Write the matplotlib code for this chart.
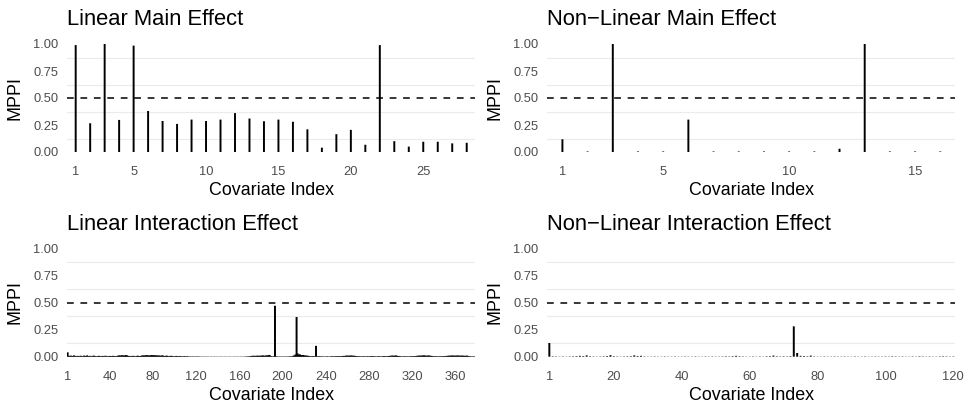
import matplotlib
matplotlib.use('Agg')
import matplotlib.pyplot as plt

plt.rcParams['font.family'] = ['Liberation Sans', 'DejaVu Sans']

# MPPI values
lin_main = [0.99, 0.266, 1.0, 0.297, 0.985, 0.38, 0.287, 0.26, 0.30, 0.287,
            0.30, 0.36, 0.31, 0.285, 0.30, 0.28, 0.21, 0.04, 0.165, 0.205,
            0.067, 0.99, 0.10, 0.05, 0.095, 0.095, 0.08, 0.085]

nonlin_main = [0.118, 0.005, 1.0, 0.005, 0.005, 0.30, 0.005, 0.005, 0.005, 0.005,
               0.005, 0.03, 1.0, 0.005, 0.005, 0.005]

lin_int = [
    0.040, 0.008, 0.006, 0.010, 0.005, 0.007, 0.012, 0.006, 0.004, 0.008, 0.006, 0.005, 0.009, 0.006, 0.004, 0.010, 0.007, 0.005, 0.012, 0.006,
    0.005, 0.008, 0.004, 0.006, 0.010, 0.007, 0.005, 0.004, 0.006, 0.008, 0.005, 0.004, 0.007, 0.006, 0.005, 0.009, 0.004, 0.006, 0.005, 0.007,
    0.006, 0.004, 0.008, 0.005, 0.006, 0.004, 0.007, 0.010, 0.012, 0.008, 0.014, 0.010, 0.012, 0.009, 0.015, 0.011, 0.008, 0.006, 0.005, 0.007,
    0.006, 0.008, 0.005, 0.004, 0.007, 0.009, 0.006, 0.005, 0.008, 0.010, 0.012, 0.009, 0.013, 0.014, 0.011, 0.012, 0.010, 0.013, 0.015, 0.012,
    0.011, 0.013, 0.010, 0.012, 0.009, 0.011, 0.008, 0.010, 0.012, 0.007, 0.006, 0.008, 0.009, 0.006, 0.005, 0.007, 0.008, 0.006, 0.005, 0.004,
    0.006, 0.007, 0.005, 0.004, 0.006, 0.005, 0.003, 0.004, 0.006, 0.003, 0.004, 0.005, 0.003, 0.002, 0.003, 0.002, 0.003, 0.002, 0.002, 0.003,
    0.002, 0.003, 0.002, 0.002, 0.001, 0.002, 0.002, 0.001, 0.002, 0.001, 0.002, 0.001, 0.001, 0.002, 0.001, 0.001, 0.002, 0.001, 0.001, 0.002,
    0.001, 0.001, 0.002, 0.001, 0.001, 0.001, 0.002, 0.001, 0.001, 0.001, 0.002, 0.001, 0.001, 0.001, 0.002, 0.001, 0.001, 0.002, 0.001, 0.001,
    0.002, 0.001, 0.002, 0.001, 0.002, 0.003, 0.002, 0.004, 0.003, 0.005, 0.006, 0.008, 0.007, 0.009, 0.006, 0.008, 0.010, 0.007, 0.009, 0.008,
    0.010, 0.011, 0.008, 0.009, 0.012, 0.010, 0.014, 0.016, 0.006, 0.004, 0.003, 0.005, 0.470, 0.004, 0.003, 0.002, 0.003, 0.002, 0.003, 0.002,
    0.002, 0.003, 0.002, 0.003, 0.002, 0.003, 0.004, 0.003, 0.005, 0.008, 0.012, 0.020, 0.366, 0.030, 0.018, 0.022, 0.015, 0.012, 0.016, 0.010,
    0.012, 0.008, 0.010, 0.007, 0.006, 0.005, 0.004, 0.006, 0.005, 0.004, 0.100, 0.004, 0.003, 0.005, 0.004, 0.003, 0.004, 0.003, 0.002, 0.003,
    0.004, 0.003, 0.002, 0.003, 0.004, 0.005, 0.003, 0.004, 0.005, 0.004, 0.006, 0.005, 0.004, 0.006, 0.005, 0.007, 0.006, 0.008, 0.009, 0.010,
    0.008, 0.010, 0.009, 0.011, 0.008, 0.009, 0.007, 0.006, 0.005, 0.004, 0.005, 0.004, 0.003, 0.004, 0.005, 0.004, 0.003, 0.004, 0.005, 0.003,
    0.004, 0.005, 0.006, 0.004, 0.005, 0.004, 0.003, 0.004, 0.005, 0.004, 0.003, 0.004, 0.005, 0.006, 0.005, 0.004, 0.005, 0.006, 0.007, 0.008,
    0.009, 0.010, 0.008, 0.009, 0.011, 0.008, 0.007, 0.006, 0.005, 0.004, 0.003, 0.004, 0.005, 0.004, 0.003, 0.004, 0.003, 0.004, 0.005, 0.004,
    0.005, 0.006, 0.005, 0.007, 0.008, 0.009, 0.010, 0.008, 0.011, 0.009, 0.012, 0.010, 0.008, 0.009, 0.011, 0.010, 0.008, 0.007, 0.006, 0.005,
    0.004, 0.005, 0.004, 0.003, 0.004, 0.005, 0.004, 0.005, 0.006, 0.005, 0.006, 0.007, 0.008, 0.009, 0.008, 0.010, 0.009, 0.011, 0.008, 0.010,
    0.009, 0.011, 0.010, 0.008, 0.009, 0.010, 0.008, 0.009, 0.007, 0.008, 0.010, 0.006, 0.005, 0.004, 0.003, 0.004, 0.003, 0.004,
]

nonlin_int = [
    0.126, 0.004, 0.003, 0.002, 0.003, 0.002, 0.003, 0.004, 0.005, 0.008, 0.006, 0.012, 0.004, 0.003, 0.002, 0.003, 0.004, 0.006, 0.014, 0.005,
    0.003, 0.002, 0.003, 0.004, 0.005, 0.012, 0.006, 0.008, 0.003, 0.002, 0.002, 0.003, 0.002, 0.002, 0.003, 0.002, 0.002, 0.003, 0.002, 0.002,
    0.003, 0.002, 0.002, 0.003, 0.002, 0.002, 0.003, 0.002, 0.003, 0.002, 0.002, 0.003, 0.004, 0.003, 0.005, 0.008, 0.004, 0.003, 0.002, 0.002,
    0.003, 0.002, 0.003, 0.002, 0.004, 0.005, 0.010, 0.004, 0.003, 0.004, 0.003, 0.005, 0.280, 0.034, 0.008, 0.006, 0.004, 0.010, 0.003, 0.002,
    0.002, 0.003, 0.002, 0.002, 0.003, 0.002, 0.002, 0.003, 0.002, 0.002, 0.003, 0.002, 0.002, 0.003, 0.002, 0.002, 0.003, 0.002, 0.002, 0.003,
    0.002, 0.004, 0.003, 0.002, 0.003, 0.002, 0.002, 0.003, 0.002, 0.004, 0.003, 0.002, 0.003, 0.002, 0.002, 0.003, 0.004, 0.003, 0.002, 0.003,
]

titles = ['Linear Main Effect', 'Non\u2212Linear Main Effect',
          'Linear Interaction Effect', 'Non\u2212Linear Interaction Effect']
xticks = [[1, 5, 10, 15, 20, 25],
          [1, 5, 10, 15],
          [1, 40, 80, 120, 160, 200, 240, 280, 320, 360],
          [1, 20, 40, 60, 80, 100, 120]]
series = [lin_main, nonlin_main, lin_int, nonlin_int]

W, H = 965, 408
fig = plt.figure(figsize=(W / 100, H / 100), dpi=100)

# panel boxes in pixels: left, top, right, bottom
boxes = [(67, 38.6, 475.4, 157.4), (547.3, 38.6, 955.4, 157.4),
         (67, 242.9, 475.4, 362.1), (547.3, 242.9, 955.4, 362.1)]

for vals, title, ticks, (l, t, r, b) in zip(series, titles, xticks, boxes):
    ax = fig.add_axes([l / W, 1 - b / H, (r - l) / W, (b - t) / H])
    n = len(vals)
    x = list(range(1, n + 1))

    for g in [0.125, 0.375, 0.625, 0.875]:
        ax.axhline(g, color='#EBEBEB', linewidth=0.8, zorder=0)

    ax.vlines(x, 0, vals, colors='black', linewidth=1.4, capstyle='butt',
              snap=False, zorder=2)
    ax.axhline(0.5, color='black', linewidth=1.1, linestyle=(0, (4.4, 4.4)), zorder=3)

    ax.set_xlim(0.4, n + 0.6)
    ax.set_ylim(-0.05, 1.05)
    ax.set_yticks([0, 0.25, 0.5, 0.75, 1.0])
    ax.set_yticklabels(['0.00', '0.25', '0.50', '0.75', '1.00'])
    ax.set_xticks(ticks)
    ax.tick_params(length=0, labelsize=9.3, labelcolor='#4D4D4D', pad=6.2)

    for s in ax.spines.values():
        s.set_visible(False)

    ax.set_title(title, loc='left', fontsize=15.8, pad=9.5)
    ax.set_ylabel('MPPI', fontsize=12.9, labelpad=7)
    ax.set_xlabel('Covariate Index', fontsize=12.9, labelpad=3)

fig.savefig('out.png', dpi=100)
